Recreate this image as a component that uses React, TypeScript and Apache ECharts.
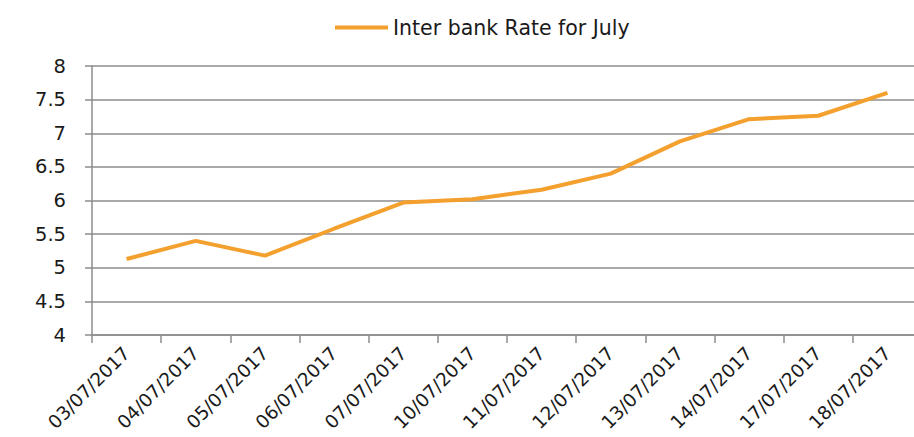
import React, { useEffect, useRef } from "react";
import * as echarts from "echarts";

const categories = [
  "03/07/2017", "04/07/2017", "05/07/2017", "06/07/2017", "07/07/2017", "10/07/2017",
  "11/07/2017", "12/07/2017", "13/07/2017", "14/07/2017", "17/07/2017", "18/07/2017",
];
const rates = [5.13, 5.4, 5.18, 5.58, 5.97, 6.02, 6.16, 6.4, 6.88, 7.21, 7.26, 7.6];
const seriesName = "Inter bank Rate for July";

const FONT = "DejaVu Sans";
const GRAY = "#8c8c8c";

export default function App() {
  const ref = useRef<HTMLDivElement>(null);
  useEffect(() => {
    if (!ref.current) return;
    const chart = echarts.init(ref.current, null, { renderer: "svg" });
    chart.setOption({
      animation: false,
      backgroundColor: "#ffffff",
      textStyle: { fontFamily: FONT },
      legend: {
        left: 330,
        top: 12,
        icon: "rect",
        itemWidth: 53,
        itemHeight: 4,
        textStyle: { fontFamily: FONT, fontSize: 20.5, color: "#1a1a1a" },
        data: [seriesName],
      },
      grid: {
        left: 92,
        top: 66,
        bottom: 102,
        right: 0,
        containLabel: false,
        outerBoundsMode: "none",
      },
      xAxis: {
        type: "category",
        data: categories,
        boundaryGap: true,
        axisLine: { show: true, lineStyle: { color: GRAY, width: 1.5 } },
        axisTick: { show: true, length: 8, lineStyle: { color: GRAY, width: 1.5 } },
        axisLabel: {
          rotate: 45,
          interval: 0,
          margin: 15,
          fontFamily: FONT,
          fontSize: 18.5,
          color: "#1a1a1a",
        },
        splitLine: { show: false },
      },
      yAxis: {
        type: "value",
        min: 4,
        max: 8,
        interval: 0.5,
        axisLine: { show: true, lineStyle: { color: GRAY, width: 1.5 } },
        axisTick: { show: true, length: 7, lineStyle: { color: GRAY, width: 1.5 } },
        axisLabel: { margin: 26, fontFamily: FONT, fontSize: 19.5, color: "#1a1a1a" },
        splitLine: { show: true, lineStyle: { color: GRAY, width: 1.5 } },
      },
      series: [
        {
          name: seriesName,
          type: "line",
          data: rates,
          symbol: "none",
          color: "#F4A02E",
          lineStyle: { width: 4, color: "#F4A02E" },
        },
      ],
    });
    return () => chart.dispose();
  }, []);
  return (
    <div
      style={{
        position: "fixed",
        left: 0,
        top: 0,
        width: 914,
        height: 437,
        overflow: "hidden",
        background: "#ffffff",
      }}
    >
      <div ref={ref} style={{ position: "absolute", left: 0, top: 0, width: 922, height: 437 }} />
    </div>
  );
}
